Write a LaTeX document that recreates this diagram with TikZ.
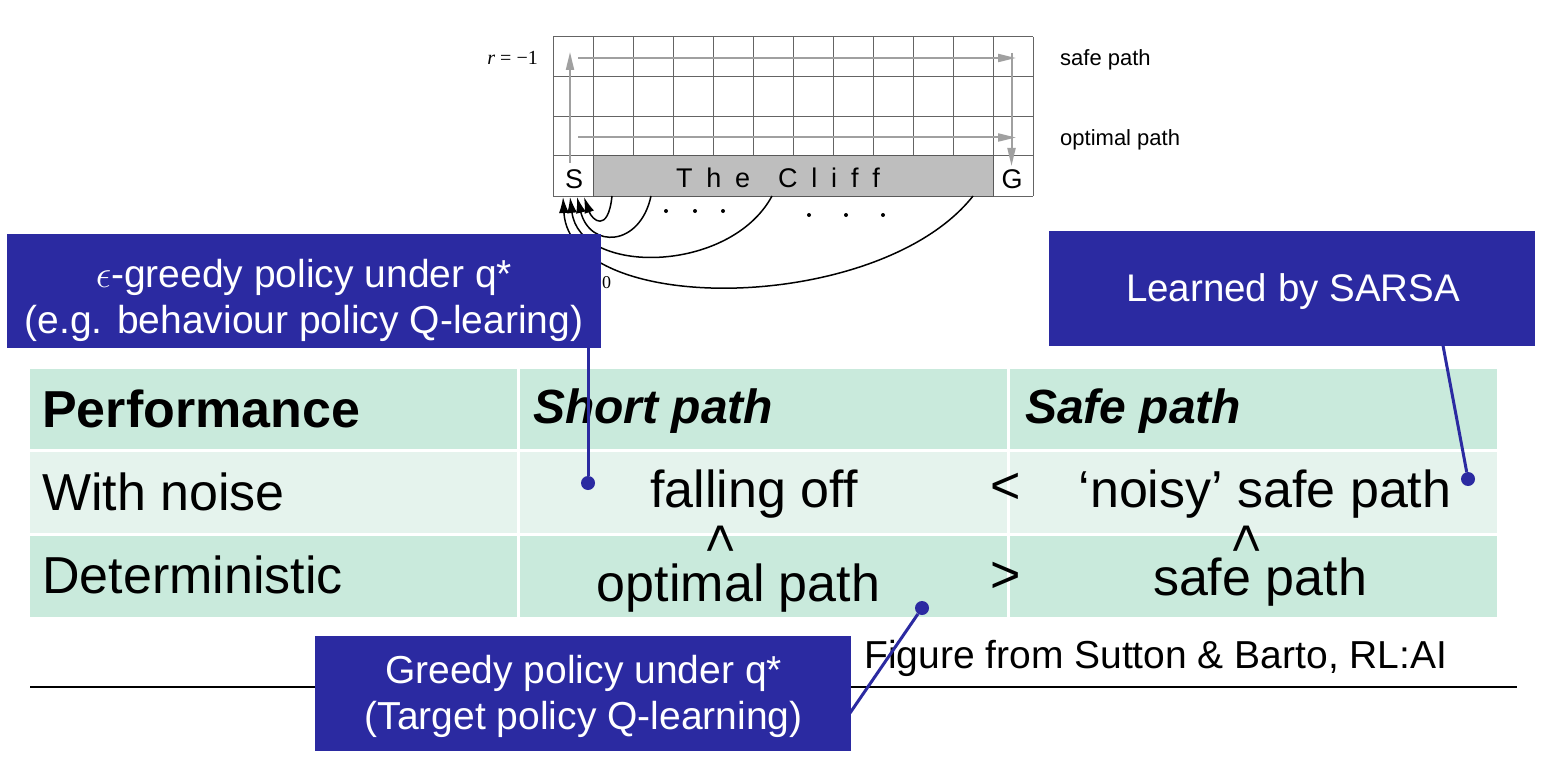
\RequirePackage{fix-cm}
\documentclass[tikz,border=0pt]{standalone}
\usepackage[no-math]{fontspec}
\setmainfont{Liberation Sans}
\newfontfamily\serifface{Liberation Serif}
\usetikzlibrary{arrows.meta}
\definecolor{callblue}{RGB}{43,42,161}
\definecolor{tgreen}{RGB}{201,234,220}
\definecolor{tlight}{RGB}{229,243,237}
\definecolor{gridgray}{RGB}{100,100,100}
\definecolor{arrgray}{RGB}{160,160,160}
\definecolor{cliffgray}{RGB}{190,190,190}
\newcommand\myfs[2]{\fontsize{#1}{#2}\selectfont}
\begin{document}
\begin{tikzpicture}[x=1pt, y=-1pt,
  callbox/.style={fill=callblue, inner sep=0pt, outer sep=0pt},
  calltext/.style={text=white, align=center, inner sep=0pt, font=\myfs{39}{46}},
  cellt/.style={inner sep=0pt, anchor=base west, font=\myfs{52}{60}},
  cellc/.style={inner sep=0pt, anchor=base, font=\myfs{52}{60}},
  hdr/.style={inner sep=0pt, anchor=base west, font=\myfs{48}{56}\bfseries\itshape},
  cmp/.style={inner sep=0pt, font=\myfs{52}{60}},
  dotst/.style={circle, fill=callblue, inner sep=0pt, minimum size=14pt},
  callline/.style={draw=callblue, line width=3pt},
  gridline/.style={draw=gridgray, line width=1pt},
  grayarrow/.style={draw=arrgray, line width=2pt, -{Triangle[length=18pt,width=8pt]}},
  curvearrow/.style={draw=black, line width=1.5pt, -{Latex[length=16pt,width=10pt]}},
  figtext/.style={inner sep=0pt, font=\myfs{27}{30}},
  labtext/.style={inner sep=0pt, font=\myfs{22}{26}}]
\useasboundingbox (0,0) rectangle (1546,778);
\fill[white] (0,0) rectangle (1546,778);

% ---------- table ----------
\foreach \xa/\xb in {30/517,520/1007,1010/1497}{
  \fill[tgreen] (\xa,369) rectangle (\xb,449);
  \fill[tlight] (\xa,452) rectangle (\xb,533);
  \fill[tgreen] (\xa,536) rectangle (\xb,617);
}
\node[cellt, font=\myfs{52}{60}\bfseries] (perf) at (42,427) {Performance};
\node[hdr] (short) at (533,423) {Short path};
\node[hdr] (safe) at (1025,423) {Safe path};
\node[cellt] (noise) at (42,510) {With noise};
\node[cellt] (det) at (42,593) {Deterministic};
\node[cellc] (fall) at (754,507) {falling off};
\node[cmp] (lt) at (1006,488) {<};
\node[cellc] (noisy) at (1265,507) {‘noisy’ safe path};
\node[cmp, rotate=-90] (up1) at (719,539) {<};
\node[cmp, rotate=-90] (up2) at (1245,539) {<};
\node[cellc] (opt) at (738.6,601) {optimal path};
\node[cmp] (gt) at (1006,577) {>};
\node[cellc] (safep) at (1260,595) {safe path};

% ---------- caption and rule ----------
\node[inner sep=0pt, anchor=base west, font=\myfs{39}{46}] (figcap) at (864,668) {Figure from Sutton \& Barto, RL:AI};
\draw[line width=2pt] (30,687) -- (1517,687);

% ---------- cliff-walking figure ----------
\foreach \x in {553,593,...,1033} \draw[gridline] (\x,37) -- (\x,156);
\foreach \y in {37,76.7,116.3,156,196} \draw[gridline] (553,\y) -- (1033,\y);
\draw[gridline] (553,156) -- (553,196);
\draw[gridline] (1033,156) -- (1033,196);
\draw[draw=gray!70!black, line width=1pt, fill=cliffgray] (593,156) rectangle (993,196);
\node[figtext, anchor=base] (S) at (574,189) {S};
\node[figtext, anchor=base] (G) at (1012,189) {G};
\node[figtext, anchor=base] (cliff) at (778,187) {\makebox[204pt][s]{T h e\ \ C l i f f}};

\draw[grayarrow] (570,163) -- (570,52);
\draw[grayarrow] (578,58) -- (1016,58);
\draw[grayarrow] (1011.5,53) -- (1011.5,166);
\draw[grayarrow] (578,137.5) -- (1016,137.5);

\draw[curvearrow] (612,196) .. controls (608,234) and (592,220) .. (584,197);
\draw[curvearrow] (651,196) .. controls (640,247) and (590,249) .. (577,197);
\draw[curvearrow] (772,196) .. controls (730,274) and (580,276) .. (570,197);
\draw[curvearrow] (973,196) .. controls (880,314) and (570,318) .. (563,197);

\foreach \x in {666,695,723} \fill (\x,211) circle (2pt);
\foreach \x in {809,846,883} \fill (\x,215) circle (2pt);

\node[inner sep=0pt, anchor=base east, font=\serifface\myfs{20}{24}] (rlab) at (538,65) {\textit{r} = −1};
\node[inner sep=0pt, anchor=base west, font=\serifface\myfs{18}{22}] (zero) at (602,288) {0};
\node[labtext, anchor=base west] (safelab) at (1060,66) {safe path};
\node[labtext, anchor=base west] (optlab) at (1060,146) {optimal path};

% ---------- callouts ----------
\node[callbox, minimum width=594pt, minimum height=114pt] (box1) at (304,291) {};
\node[calltext] (t1) at (304,300) {$\epsilon$-greedy policy under q*\\(e.g. behaviour policy Q-learing)};
\node[callbox, minimum width=486pt, minimum height=115pt] (box2) at (1292,288.5) {};
\node[calltext, font=\myfs{38.5}{44}, anchor=base] (t2) at (1293,301.5) {Learned by SARSA};
\node[callbox, minimum width=535.5pt, minimum height=114.5pt] (box3) at (582.75,693.25) {};
\node[calltext] (t3) at (583.6,696) {Greedy policy under q*\\(Target policy Q-learning)};

\node[dotst] (d1) at (588,483) {};
\node[dotst] (d2) at (1468,479) {};
\node[dotst] (d3) at (922,608) {};
\coordinate (b2a) at (1443,345.5);
\coordinate (b3a) at (850,713);
\draw[callline] (d1 |- box1.south) -- (d1);
\draw[callline] (b2a) -- (d2);
\draw[callline] (b3a) -- (d3);
\end{tikzpicture}
\end{document}
